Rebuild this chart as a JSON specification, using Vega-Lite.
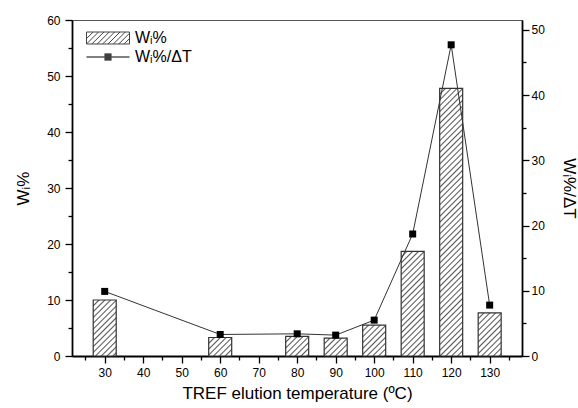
{
  "$schema": "https://vega.github.io/schema/vega-lite/v6.json",
  "width": 450,
  "height": 336,
  "autosize": "none",
  "padding": {"left": 72, "top": 20, "right": 56, "bottom": 52},
  "background": "white",
  "config": {
    "font": "Liberation Sans",
    "view": {"stroke": "#555", "strokeWidth": 1},
    "axis": {
      "grid": false,
      "domainColor": "black",
      "domainWidth": 1.8,
      "tickColor": "black",
      "tickWidth": 1.3,
      "labelColor": "black",
      "labelFontSize": 12,
      "labelFont": "Liberation Sans",
      "titleFont": "Liberation Sans",
      "titleFontSize": 17,
      "titleFontWeight": "normal",
      "titleColor": "black",
      "labelOverlap": false
    },
    "legend": {
      "title": null,
      "orient": "none",
      "padding": 0,
      "symbolSize": 1849,
      "symbolStrokeWidth": 1,
      "symbolOpacity": 1,
      "labelFont": "Liberation Sans",
      "labelFontSize": 16,
      "labelColor": "black",
      "labelOffset": 5
    }
  },
  "params": [
    {
      "name": "hatch",
      "value": [
        {"offset":0,"color":"#555"},{"offset":0.005,"color":"#fff"},
        {"offset":0.015,"color":"#fff"},{"offset":0.02,"color":"#555"},{"offset":0.025,"color":"#fff"},
        {"offset":0.035,"color":"#fff"},{"offset":0.04,"color":"#555"},{"offset":0.045,"color":"#fff"},
        {"offset":0.055,"color":"#fff"},{"offset":0.06,"color":"#555"},{"offset":0.065,"color":"#fff"},
        {"offset":0.075,"color":"#fff"},{"offset":0.08,"color":"#555"},{"offset":0.085,"color":"#fff"},
        {"offset":0.095,"color":"#fff"},{"offset":0.1,"color":"#555"},{"offset":0.105,"color":"#fff"},
        {"offset":0.115,"color":"#fff"},{"offset":0.12,"color":"#555"},{"offset":0.125,"color":"#fff"},
        {"offset":0.135,"color":"#fff"},{"offset":0.14,"color":"#555"},{"offset":0.145,"color":"#fff"},
        {"offset":0.155,"color":"#fff"},{"offset":0.16,"color":"#555"},{"offset":0.165,"color":"#fff"},
        {"offset":0.175,"color":"#fff"},{"offset":0.18,"color":"#555"},{"offset":0.185,"color":"#fff"},
        {"offset":0.195,"color":"#fff"},{"offset":0.2,"color":"#555"},{"offset":0.205,"color":"#fff"},
        {"offset":0.215,"color":"#fff"},{"offset":0.22,"color":"#555"},{"offset":0.225,"color":"#fff"},
        {"offset":0.235,"color":"#fff"},{"offset":0.24,"color":"#555"},{"offset":0.245,"color":"#fff"},
        {"offset":0.255,"color":"#fff"},{"offset":0.26,"color":"#555"},{"offset":0.265,"color":"#fff"},
        {"offset":0.275,"color":"#fff"},{"offset":0.28,"color":"#555"},{"offset":0.285,"color":"#fff"},
        {"offset":0.295,"color":"#fff"},{"offset":0.3,"color":"#555"},{"offset":0.305,"color":"#fff"},
        {"offset":0.315,"color":"#fff"},{"offset":0.32,"color":"#555"},{"offset":0.325,"color":"#fff"},
        {"offset":0.335,"color":"#fff"},{"offset":0.34,"color":"#555"},{"offset":0.345,"color":"#fff"},
        {"offset":0.355,"color":"#fff"},{"offset":0.36,"color":"#555"},{"offset":0.365,"color":"#fff"},
        {"offset":0.375,"color":"#fff"},{"offset":0.38,"color":"#555"},{"offset":0.385,"color":"#fff"},
        {"offset":0.395,"color":"#fff"},{"offset":0.4,"color":"#555"},{"offset":0.405,"color":"#fff"},
        {"offset":0.415,"color":"#fff"},{"offset":0.42,"color":"#555"},{"offset":0.425,"color":"#fff"},
        {"offset":0.435,"color":"#fff"},{"offset":0.44,"color":"#555"},{"offset":0.445,"color":"#fff"},
        {"offset":0.455,"color":"#fff"},{"offset":0.46,"color":"#555"},{"offset":0.465,"color":"#fff"},
        {"offset":0.475,"color":"#fff"},{"offset":0.48,"color":"#555"},{"offset":0.485,"color":"#fff"},
        {"offset":0.495,"color":"#fff"},{"offset":0.5,"color":"#555"},{"offset":0.505,"color":"#fff"},
        {"offset":0.515,"color":"#fff"},{"offset":0.52,"color":"#555"},{"offset":0.525,"color":"#fff"},
        {"offset":0.535,"color":"#fff"},{"offset":0.54,"color":"#555"},{"offset":0.545,"color":"#fff"},
        {"offset":0.555,"color":"#fff"},{"offset":0.56,"color":"#555"},{"offset":0.565,"color":"#fff"},
        {"offset":0.575,"color":"#fff"},{"offset":0.58,"color":"#555"},{"offset":0.585,"color":"#fff"},
        {"offset":0.595,"color":"#fff"},{"offset":0.6,"color":"#555"},{"offset":0.605,"color":"#fff"},
        {"offset":0.615,"color":"#fff"},{"offset":0.62,"color":"#555"},{"offset":0.625,"color":"#fff"},
        {"offset":0.635,"color":"#fff"},{"offset":0.64,"color":"#555"},{"offset":0.645,"color":"#fff"},
        {"offset":0.655,"color":"#fff"},{"offset":0.66,"color":"#555"},{"offset":0.665,"color":"#fff"},
        {"offset":0.675,"color":"#fff"},{"offset":0.68,"color":"#555"},{"offset":0.685,"color":"#fff"},
        {"offset":0.695,"color":"#fff"},{"offset":0.7,"color":"#555"},{"offset":0.705,"color":"#fff"},
        {"offset":0.715,"color":"#fff"},{"offset":0.72,"color":"#555"},{"offset":0.725,"color":"#fff"},
        {"offset":0.735,"color":"#fff"},{"offset":0.74,"color":"#555"},{"offset":0.745,"color":"#fff"},
        {"offset":0.755,"color":"#fff"},{"offset":0.76,"color":"#555"},{"offset":0.765,"color":"#fff"},
        {"offset":0.775,"color":"#fff"},{"offset":0.78,"color":"#555"},{"offset":0.785,"color":"#fff"},
        {"offset":0.795,"color":"#fff"},{"offset":0.8,"color":"#555"},{"offset":0.805,"color":"#fff"},
        {"offset":0.815,"color":"#fff"},{"offset":0.82,"color":"#555"},{"offset":0.825,"color":"#fff"},
        {"offset":0.835,"color":"#fff"},{"offset":0.84,"color":"#555"},{"offset":0.845,"color":"#fff"},
        {"offset":0.855,"color":"#fff"},{"offset":0.86,"color":"#555"},{"offset":0.865,"color":"#fff"},
        {"offset":0.875,"color":"#fff"},{"offset":0.88,"color":"#555"},{"offset":0.885,"color":"#fff"},
        {"offset":0.895,"color":"#fff"},{"offset":0.9,"color":"#555"},{"offset":0.905,"color":"#fff"},
        {"offset":0.915,"color":"#fff"},{"offset":0.92,"color":"#555"},{"offset":0.925,"color":"#fff"},
        {"offset":0.935,"color":"#fff"},{"offset":0.94,"color":"#555"},{"offset":0.945,"color":"#fff"},
        {"offset":0.955,"color":"#fff"},{"offset":0.96,"color":"#555"},{"offset":0.965,"color":"#fff"},
        {"offset":0.975,"color":"#fff"},{"offset":0.98,"color":"#555"},{"offset":0.985,"color":"#fff"},
        {"offset":1,"color":"#fff"}
      ]
    }
  ],
  "data": {
    "values": [
      {"T": 30, "W": 10.0, "WdT": 9.9},
      {"T": 60, "W": 3.3, "WdT": 3.3},
      {"T": 80, "W": 3.5, "WdT": 3.4},
      {"T": 90, "W": 3.2, "WdT": 3.2},
      {"T": 100, "W": 5.5, "WdT": 5.5},
      {"T": 110, "W": 18.7, "WdT": 18.7},
      {"T": 120, "W": 47.8, "WdT": 47.7},
      {"T": 130, "W": 7.7, "WdT": 7.8}
    ]
  },
  "encoding": {
    "x": {
      "field": "T",
      "type": "quantitative",
      "scale": {"domain": [22.8, 137.1], "nice": false, "zero": false},
      "axis": {
        "title": "TREF elution temperature (ºC)",
        "values": [25,30,35,40,45,50,55,60,65,70,75,80,85,90,95,100,105,110,115,120,125,130,135],
        "labelExpr": "datum.value % 10 == 0 ? datum.label : ''",
        "tickSize": {"condition": {"test": "datum.value % 10 != 0", "value": 4}, "value": 7},
        "labelPadding": 4,
        "titlePadding": 7
      }
    }
  },
  "layer": [
    {
      "encoding": {
        "y": {
          "field": "W",
          "type": "quantitative",
          "scale": {"domain": [0, 60], "nice": false},
          "axis": {
            "title": "Wᵢ%",
            "orient": "left",
            "values": [0,5,10,15,20,25,30,35,40,45,50,55,60],
            "labelExpr": "datum.value % 10 == 0 ? datum.label : ''",
            "tickSize": {"condition": {"test": "datum.value % 10 != 0", "value": 4}, "value": 7},
            "labelPadding": 5,
            "titlePadding": 14
          }
        }
      },
      "layer": [
        {
          "mark": {"type": "bar", "size": 23, "stroke": "#333", "strokeWidth": 1.2},
          "encoding": {
            "fill": {"value": {"expr": "{gradient: 'linear', x1: 0, y1: 0, x2: 291.3*23/(529+pow(datum.W*5.6,2)), y2: 291.3*datum.W*5.6/(529+pow(datum.W*5.6,2)), stops: hatch}"}}
          }
        },
        {
          "mark": {"type": "point", "filled": false, "color": "#444", "strokeWidth": 1, "opacity": 0},
          "encoding": {
            "shape": {
              "datum": "Wᵢ%",
              "type": "nominal",
              "scale": {"domain": ["Wᵢ%"], "range": ["M-1,-0.279H1V0.279H-1Z M-1,0.029L-0.692,-0.279 M-1,0.279L-0.442,-0.279 M-0.75,0.279L-0.192,-0.279 M-0.5,0.279L0.058,-0.279 M-0.25,0.279L0.308,-0.279 M0,0.279L0.558,-0.279 M0.25,0.279L0.808,-0.279 M0.5,0.279L1,-0.221 M0.75,0.279L1,0.029"]},
              "legend": {"legendX": 14, "legendY": -4}
            }
          }
        }
      ]
    },
    {
      "encoding": {
        "y": {
          "field": "WdT",
          "type": "quantitative",
          "scale": {"domain": [0, 51.5], "nice": false},
          "axis": {
            "title": "Wᵢ%/ΔT",
            "orient": "right",
            "values": [0,5,10,15,20,25,30,35,40,45,50],
            "labelExpr": "datum.value % 10 == 0 ? datum.label : ''",
            "tickSize": {"condition": {"test": "datum.value % 10 != 0", "value": 4}, "value": 7},
            "labelPadding": 2,
            "titlePadding": 15
          }
        }
      },
      "layer": [
        {"mark": {"type": "line", "color": "#333", "strokeWidth": 1}, "encoding": {}},
        {"mark": {"type": "point", "shape": "square", "filled": true, "color": "black", "size": 49, "opacity": 1}, "encoding": {}},
        {
          "mark": {"type": "point", "filled": false, "color": "black", "strokeWidth": 1, "opacity": 0},
          "encoding": {
            "shape": {
              "datum": "Wᵢ%/ΔT",
              "type": "nominal",
              "scale": {"domain": ["Wᵢ%/ΔT"], "range": ["M-1,0H1 M-0.163,-0.14H0.163 M-0.163,-0.093H0.163 M-0.163,-0.047H0.163 M-0.163,0.047H0.163 M-0.163,0.093H0.163 M-0.163,0.14H0.163"]},
              "legend": {"legendX": 14, "legendY": 15}
            }
          }
        }
      ]
    }
  ],
  "resolve": {"scale": {"y": "independent", "shape": "independent"}}
}
